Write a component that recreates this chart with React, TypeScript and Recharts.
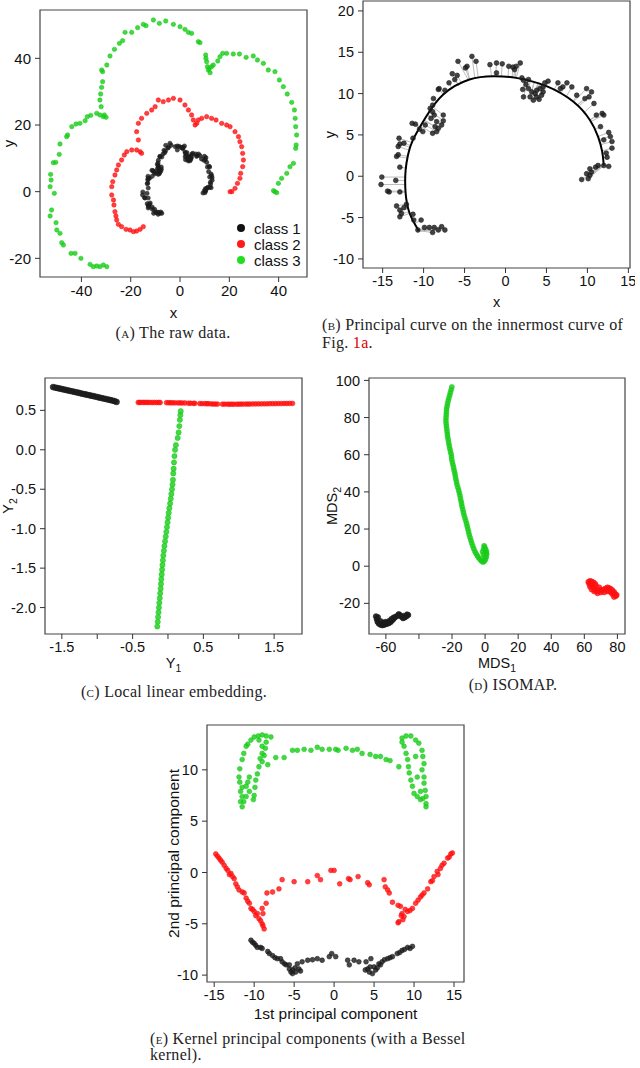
import React from 'react';
import { ScatterChart, ComposedChart, Scatter, Line, XAxis, YAxis, ReferenceArea, Legend, Label } from 'recharts';

type P = [number, number];

// ---------- (a) raw data & (b) innermost curve ----------
const CLASS1: P[] = [
  [-10.7, -6.5], [-10.3, -5.3], [-11.2, -5.3], [-11.3, -4.6], [-9.9, -6.2], [-9.3, -6.2], [-8.9, -6.8], [-8.2, -6.5],
  [-7.8, -6.1], [-7.4, -6.5], [-8.7, -6.2], [-12.7, -4.5], [-12.9, -4.1], [-12.4, -3.8], [-12.1, -3.4], [-13.3, -3.6],
  [-12.9, -4.9], [-12.9, -1.9], [-14.2, -1.9], [-14.4, -1.8], [-13.4, -0.5], [-15.1, -0.1], [-15.2, -1.0], [-12.9, 1.1],
  [-13.3, 2.4], [-13.1, 2.6], [-13.1, 3.6], [-12.9, 3.9], [-13.0, 4.6], [-12.4, 4.0], [-11.3, 4.6], [-11.0, 6.3],
  [-11.4, 6.4], [-10.5, 5.7], [-10.1, 5.4], [-9.8, 6.2], [-9.1, 7.0], [-8.7, 7.4], [-8.9, 7.8], [-9.2, 8.2],
  [-8.9, 8.6], [-8.8, 9.4], [-8.2, 10.5], [-8.1, 10.6], [-7.6, 7.4], [-8.4, 6.6], [-8.6, 6.0], [-8.2, 5.8],
  [-7.8, 6.2], [-8.9, 5.2], [-7.6, 6.7], [-8.4, 5.4], [-7.4, 10.4], [-6.9, 11.3], [-6.2, 11.7], [-5.9, 12.2],
  [-6.5, 12.4], [-5.8, 13.9], [-4.9, 13.1], [-4.7, 13.3], [-4.1, 14.5], [-3.6, 13.9], [-1.9, 13.5], [-1.1, 13.7],
  [-1.1, 12.5], [-0.4, 13.6], [0.4, 13.3], [0.9, 13.2], [1.3, 13.3], [1.8, 13.7], [1.1, 12.9], [2.0, 11.9],
  [2.2, 11.6], [2.8, 11.7], [2.5, 11.1], [2.8, 10.6], [2.1, 10.5], [2.2, 9.6], [3.0, 9.6], [3.2, 10.2],
  [3.6, 10.0], [3.8, 10.4], [4.2, 10.6], [4.4, 9.8], [4.1, 9.3], [3.4, 9.2], [4.6, 10.8], [4.8, 11.3],
  [5.2, 11.5], [4.6, 10.2], [3.8, 9.6], [6.4, 11.3], [7.0, 10.8], [7.5, 11.3], [8.1, 10.8], [6.7, 10.6],
  [8.7, 9.8], [9.9, 10.6], [10.5, 10.2], [9.7, 9.4], [10.2, 9.6], [10.8, 8.8], [11.1, 7.4], [11.8, 7.6],
  [12.0, 7.4], [11.6, 6.0], [12.6, 5.3], [12.8, 4.8], [13.0, 4.2], [12.0, 4.4], [13.0, 3.4], [12.3, 2.8],
  [12.4, 2.3], [12.6, 1.2], [12.0, 1.3], [11.3, 1.3], [11.0, 1.1], [10.3, 0.9], [10.5, 0.5], [9.9, 0.3],
  [10.3, 0.1], [10.1, -0.3], [9.3, -0.4],
];

const CLASS2: P[] = [
  [-14.9, -10.5], [-16.2, -11.3], [-17.6, -11.8], [-18.9, -12.0], [-20.3, -11.5], [-21.9, -11.3], [-23.7, -10.5],
  [-25.0, -9.8], [-25.7, -8.5], [-26.0, -7.3], [-26.4, -6.0], [-26.8, -4.0], [-27.0, -2.5], [-27.7, -1.0],
  [-27.7, 1.5], [-27.3, 3.0], [-26.4, 5.0], [-25.7, 6.5], [-25.0, 8.0], [-23.7, 9.5], [-22.6, 11.0], [-21.6, 12.0],
  [-19.6, 12.5], [-17.6, 12.5], [-16.2, 12.0], [-15.6, 11.5], [-16.9, 15.5], [-17.6, 18.0], [-16.9, 20.5],
  [-15.6, 22.0], [-13.5, 23.5], [-11.5, 24.5], [-10.1, 25.5], [-8.8, 27.5], [-6.8, 27.0], [-4.7, 27.5], [-2.7, 28.0],
  [0.0, 27.5], [2.0, 26.0], [3.4, 24.5], [4.7, 23.0], [5.4, 21.5], [6.1, 20.0], [6.8, 20.5], [7.4, 21.5], [8.8, 22.0],
  [10.8, 22.5], [12.8, 22.0], [14.6, 21.5], [16.9, 20.5], [18.9, 20.0], [20.3, 19.5], [22.3, 18.0], [23.7, 16.5],
  [24.3, 15.0], [25.0, 13.5], [25.4, 11.5], [25.7, 9.5], [25.4, 7.5], [24.6, 5.5], [24.3, 4.0], [23.3, 2.5],
  [22.3, 1.0], [21.0, 0.0], [20.3, 0.0],
];

const CLASS3: P[] = [
  [-29.7, -22.5], [-31.1, -22.0], [-32.5, -22.5], [-33.8, -22.3], [-35.2, -22.5], [-36.5, -21.8], [-40.2, -20.0],
  [-42.6, -18.5], [-44.2, -18.5], [-47.3, -16.0], [-48.0, -15.3], [-48.7, -12.5], [-50.0, -11.5], [-50.3, -9.3],
  [-52.7, -7.3], [-52.1, -5.5], [-51.0, -0.5], [-52.7, 1.5], [-52.3, 3.5], [-52.5, 5.2], [-51.4, 8.7], [-50.4, 8.8],
  [-49.0, 11.2], [-48.7, 14.3], [-46.0, 16.5], [-45.6, 17.0], [-43.9, 19.5], [-42.2, 20.3], [-40.6, 20.5],
  [-38.5, 21.3], [-37.6, 22.5], [-36.2, 22.9], [-33.8, 23.5], [-32.5, 23.0], [-31.1, 22.5], [-30.0, 22.3],
  [-30.7, 23.0], [-32.0, 25.5], [-32.5, 27.5], [-32.2, 29.3], [-31.8, 31.3], [-31.4, 33.0], [-31.4, 36.0],
  [-31.8, 36.5], [-29.7, 38.0], [-28.4, 40.7], [-26.6, 42.7], [-24.6, 44.5], [-23.3, 45.3], [-22.3, 47.8],
  [-19.6, 47.8], [-17.2, 49.2], [-14.9, 50.2], [-13.8, 49.8], [-10.8, 51.5], [-8.4, 50.5], [-5.8, 51.2],
  [-2.7, 50.2], [0.0, 49.5], [2.0, 48.7], [3.4, 47.8], [4.7, 47.5], [7.4, 45.0], [8.1, 44.7], [10.4, 41.0],
  [10.5, 40.0], [10.8, 39.0], [11.1, 37.5], [11.5, 36.5], [12.2, 35.7], [11.9, 37.0], [12.8, 37.5], [13.5, 38.0],
  [15.3, 39.2], [16.2, 40.5], [17.3, 41.5], [18.9, 41.5], [21.6, 41.3], [24.1, 41.3], [26.8, 40.3], [29.7, 40.7],
  [31.4, 39.5], [33.8, 38.5], [35.8, 36.5], [38.5, 36.0], [40.3, 33.5], [41.9, 31.5], [43.5, 29.3], [45.3, 26.8],
  [46.4, 24.5], [46.7, 22.0], [46.9, 19.5], [47.3, 17.0], [47.1, 14.0], [46.9, 13.0], [46.0, 8.5], [44.6, 7.5],
  [43.3, 5.5], [41.2, 4.0], [39.9, 2.5], [38.5, 0.0], [37.9, 0.3], [39.2, -0.3],
];

const PCURVE: P[] = [
  [-10.6, -6.6], [-11.7, -4.5], [-12.2, -2.0], [-12.2, 0.7], [-11.9, 2.6], [-11.3, 4.4], [-9.7, 7.2],
  [-7.6, 9.9], [-4.4, 11.7], [-1.5, 12.1], [1.3, 11.9], [5.0, 10.9], [8.3, 9.0], [10.3, 6.8], [11.3, 4.8],
  [11.8, 3.0], [12.0, 1.3],
];

// ---------- (c) LLE ----------
const LLE1: P[] = [
  [-1.624, 0.795], [-1.595, 0.789], [-1.565, 0.783], [-1.535, 0.777], [-1.505, 0.771], [-1.475, 0.765], [-1.445, 0.759],
  [-1.415, 0.753], [-1.385, 0.747], [-1.355, 0.741], [-1.325, 0.735], [-1.295, 0.729], [-1.265, 0.723], [-1.235, 0.716],
  [-1.205, 0.71], [-1.175, 0.704], [-1.145, 0.698], [-1.115, 0.692], [-1.085, 0.686], [-1.055, 0.68], [-1.025, 0.674],
  [-0.995, 0.668], [-0.965, 0.661], [-0.935, 0.655], [-0.905, 0.649], [-0.875, 0.643], [-0.845, 0.637], [-0.815, 0.631],
  [-0.785, 0.624], [-0.755, 0.617], [-0.727, 0.607],
];
const LLE2: P[] = [
  [-0.42, 0.6], [-0.4, 0.6], [-0.38, 0.601], [-0.35, 0.6], [-0.33, 0.601], [-0.3, 0.6], [-0.28, 0.6], [-0.25, 0.6],
  [-0.22, 0.599], [-0.19, 0.6], [-0.16, 0.599], [-0.13, 0.6], [-0.11, 0.599], [-0.02, 0.597], [0.01, 0.596],
  [0.04, 0.596], [0.07, 0.595], [0.1, 0.595], [0.14, 0.594], [0.17, 0.594], [0.2, 0.593], [0.24, 0.593],
  [0.29, 0.59], [0.32, 0.59], [0.36, 0.589], [0.38, 0.589], [0.45, 0.586], [0.48, 0.585], [0.52, 0.585],
  [0.55, 0.584], [0.57, 0.584], [0.61, 0.581], [0.64, 0.58], [0.67, 0.58], [0.7, 0.579], [0.77, 0.578],
  [0.8, 0.578], [0.84, 0.578], [0.87, 0.577], [0.9, 0.578], [0.93, 0.577], [0.97, 0.578], [1.0, 0.578],
  [1.03, 0.579], [1.06, 0.579], [1.1, 0.58], [1.13, 0.58], [1.16, 0.58], [1.2, 0.581], [1.24, 0.581],
  [1.28, 0.582], [1.32, 0.582], [1.36, 0.583], [1.4, 0.583], [1.44, 0.584], [1.48, 0.585], [1.52, 0.585],
  [1.56, 0.586], [1.6, 0.586], [1.64, 0.587], [1.68, 0.587], [1.72, 0.588], [1.76, 0.588],
];
const LLE3: P[] = [
  [-0.151, -2.24], [-0.145, -2.18], [-0.14, -2.12], [-0.134, -2.06], [-0.128, -2.0], [-0.122, -1.94], [-0.116, -1.88],
  [-0.11, -1.82], [-0.104, -1.76], [-0.099, -1.7], [-0.094, -1.64], [-0.089, -1.58], [-0.083, -1.52], [-0.078, -1.46],
  [-0.072, -1.4], [-0.066, -1.34], [-0.058, -1.28], [-0.05, -1.22], [-0.041, -1.16], [-0.032, -1.1], [-0.023, -1.04],
  [-0.014, -0.98], [-0.006, -0.92], [0.002, -0.86], [0.01, -0.8], [0.02, -0.74], [0.03, -0.68], [0.039, -0.62],
  [0.048, -0.56], [0.057, -0.5], [0.064, -0.44], [0.07, -0.38], [0.075, -0.3], [0.08, -0.24], [0.085, -0.16],
  [0.092, -0.08], [0.1, 0.0], [0.112, 0.06], [0.137, 0.15], [0.15, 0.22], [0.16, 0.3], [0.168, 0.38],
  [0.175, 0.44], [0.18, 0.49],
];

// ---------- (d) ISOMAP ----------
const ISO1: P[] = [
  [-66.0, -27.0], [-65.5, -28.5], [-65.0, -30.0], [-64.2, -31.0], [-63.2, -31.5], [-62.2, -31.8], [-61.3, -31.6],
  [-60.3, -31.3], [-59.3, -31.0], [-58.3, -30.7], [-57.3, -30.2], [-56.4, -29.4], [-55.5, -28.5], [-54.6, -27.6],
  [-53.6, -27.0], [-52.6, -26.5], [-51.6, -26.3], [-50.6, -27.2], [-49.6, -28.0], [-48.6, -27.6], [-47.6, -27.0],
  [-46.5, -26.3], [-64.8, -27.5], [-63.2, -29.6], [-61.2, -30.3], [-58.0, -29.5], [-55.2, -27.6], [-52.2, -25.8],
  [-49.2, -26.8], [-47.2, -26.0], [-60.0, -30.0], [-56.6, -28.4],
];
const ISO2: P[] = [
  [62.5, -8.5], [63.5, -8.0], [64.5, -8.3], [65.5, -8.8], [66.5, -9.5], [64.0, -10.0], [63.0, -9.5], [65.0, -11.0],
  [66.0, -12.0], [67.0, -13.0], [68.0, -13.5], [69.0, -13.0], [70.0, -12.8], [71.0, -13.0], [72.0, -12.5],
  [73.0, -12.0], [74.0, -11.5], [75.0, -11.8], [76.0, -12.3], [77.0, -13.0], [78.0, -14.0], [78.5, -15.0],
  [79.0, -16.0], [78.0, -16.5], [77.0, -15.0], [76.0, -14.0], [74.0, -13.5], [72.0, -14.0], [70.0, -14.0],
  [68.0, -14.5], [66.0, -13.5], [64.5, -12.5], [63.5, -11.0], [67.0, -10.5], [69.0, -11.5], [75.0, -13.2],
  [79.5, -15.5],
];
const ISO3: P[] = [
  [-20.1, 96.5], [-20.5, 95.0], [-21.0, 93.5], [-21.4, 92.0], [-21.9, 90.5], [-22.3, 89.0], [-22.7, 87.5],
  [-23.0, 86.0], [-23.3, 84.5], [-23.4, 83.0], [-23.5, 81.5], [-23.6, 80.0], [-23.7, 78.5], [-23.6, 77.0],
  [-23.4, 75.5], [-23.2, 74.0], [-23.0, 72.5], [-22.8, 71.0], [-22.6, 69.5], [-22.3, 68.0], [-22.0, 66.5],
  [-21.7, 65.0], [-21.4, 63.5], [-21.0, 62.0], [-20.6, 60.5], [-20.3, 59.0], [-20.2, 57.5], [-19.8, 56.0],
  [-19.4, 54.5], [-19.0, 53.0], [-18.7, 51.5], [-18.3, 50.0], [-18.0, 48.5], [-17.7, 47.0], [-17.3, 45.5],
  [-17.0, 44.0], [-16.5, 42.5], [-16.0, 41.0], [-15.6, 39.5], [-15.2, 38.0], [-14.9, 36.5], [-14.5, 35.0],
  [-14.2, 33.5], [-13.9, 32.0], [-13.5, 30.5], [-13.1, 29.0], [-12.7, 27.5], [-12.2, 26.0], [-11.7, 24.5],
  [-11.2, 23.0], [-10.8, 21.5], [-10.4, 20.0], [-10.0, 18.5], [-9.6, 17.0], [-9.1, 15.5], [-8.6, 14.0],
  [-8.1, 12.5], [-7.5, 11.0], [-6.9, 9.5], [-6.2, 8.0], [-5.5, 6.8], [-4.7, 5.6], [-3.9, 4.6], [-3.0, 3.6],
  [-2.2, 2.8], [-1.3, 2.2], [-0.5, 2.6], [0.2, 3.6], [0.7, 5.0], [1.0, 6.5], [0.8, 8.0], [0.3, 9.2],
  [-0.3, 10.3], [-0.9, 9.2], [-1.5, 7.8], [-1.0, 6.2], [-0.2, 4.8], [0.4, 7.2], [-0.6, 11.0],
];

// ---------- (e) kernel PCA ----------
const KPC1: P[] = [
  [-10.4, -6.6], [-10.0, -6.9], [-9.6, -7.3], [-9.0, -7.4], [-8.3, -7.7], [-7.7, -8.1], [-7.1, -8.4], [-6.5, -8.7],
  [-6.0, -9.0], [-5.6, -9.4], [-5.2, -9.5], [-4.8, -9.7], [-4.4, -9.4], [-4.6, -8.9], [-4.0, -8.7], [-3.3, -8.55],
  [-2.7, -8.5], [-2.1, -8.4], [-1.5, -8.55], [-0.6, -8.2], [-0.3, -7.9], [0.2, -8.2], [1.7, -8.55], [1.9, -9.0],
  [2.5, -8.55], [3.1, -8.7], [4.0, -8.7], [4.2, -9.4], [4.4, -9.7], [4.6, -8.4], [5.0, -9.2], [5.6, -8.9],
  [6.0, -8.7], [6.7, -8.4], [7.3, -8.2], [7.9, -7.9], [8.5, -7.6], [9.2, -7.3], [9.8, -7.2], [5.2, -9.5],
  [4.8, -9.85], [-5.2, -9.85], [-5.6, -9.0], [-6.7, -8.4], [-8.1, -7.9], [-9.2, -7.3], [-9.8, -7.1], [-10.2, -6.8],
  [-4.9, -9.3], [-5.4, -9.7], [4.5, -9.2], [5.4, -9.3], [6.3, -8.5], [8.2, -7.8], [9.5, -7.4],
  [-7.4, -8.3], [-6.2, -8.9], [-4.2, -9.6], [3.9, -9.5], [5.8, -9.0], [7.0, -8.3], [8.8, -7.5],
];
const KPC2: P[] = [
  [-14.8, 1.8], [-14.4, 1.4], [-14.0, 1.0], [-13.75, 0.7], [-13.3, 0.2], [-12.9, -0.1], [-12.5, -0.6], [-12.3, -1.1],
  [-12.1, -1.4], [-11.25, -2.0], [-11.0, -2.5], [-10.6, -3.0], [-10.4, -3.5], [-10.0, -3.8], [-9.6, -4.0],
  [-9.4, -4.5], [-9.0, -5.0], [-8.75, -5.5], [-9.0, -3.5], [-8.5, -3.0], [-8.4, -2.0], [-7.7, -1.9], [-6.9, -1.6],
  [-6.5, -0.7], [-5.0, -0.9], [-3.3, -0.9], [-2.1, -0.3], [-1.7, -0.7], [-0.4, 0.2], [0.0, 0.2], [0.7, -1.1],
  [1.8, -0.6], [2.0, -0.7], [3.0, -0.4], [4.2, -1.0], [4.4, -1.2], [6.25, -0.7], [6.4, -1.4], [6.7, -1.7],
  [6.9, -2.0], [7.3, -2.9], [8.0, -3.2], [8.3, -3.3], [8.5, -4.0], [8.75, -4.3], [8.1, -4.8], [9.2, -3.8],
  [9.8, -3.5], [10.2, -3.0], [10.8, -2.4], [11.25, -2.0], [11.7, -1.6], [12.1, -0.9], [12.5, -0.4], [12.9, 0.1],
  [13.3, 0.4], [13.75, 0.9], [14.2, 1.4], [14.6, 1.8], [14.8, 1.9], [-14.6, 1.6], [-14.2, 1.2], [-13.5, 0.4],
  [-13.1, -0.2], [-12.7, -0.4], [-11.9, -1.7], [-11.5, -1.9], [-10.8, -2.8], [-10.2, -3.6], [-9.8, -4.2],
  [-9.2, -4.7], [-8.9, -5.2], [-8.9, -4.0], [8.6, -4.6], [8.4, -4.2], [8.9, -3.6], [9.5, -3.7], [10.5, -2.7],
  [11.0, -2.2], [12.3, -0.8], [13.0, -0.2], [13.5, 0.7], [14.4, 1.5], [8.0, -4.9],
];
const KPC3: P[] = [
  [-11.5, 6.4], [-11.7, 6.9], [-11.5, 7.4], [-11.7, 7.9], [-11.5, 8.3], [-11.8, 8.8], [-11.9, 9.3], [-11.8, 10.1],
  [-11.5, 11.0], [-11.3, 11.6], [-11.0, 12.3], [-10.8, 12.5], [-10.4, 12.9], [-10.0, 13.2], [-9.5, 13.3],
  [-9.0, 13.4], [-8.5, 13.3], [-7.9, 13.2], [-8.5, 12.7], [-8.6, 12.1], [-8.75, 11.4], [-9.0, 10.8], [-9.4, 10.3],
  [-9.6, 9.6], [-9.8, 9.0], [-9.9, 8.3], [-10.0, 7.5], [-10.1, 7.1], [-10.6, 9.3], [-10.8, 8.8], [-11.0, 8.4],
  [-10.6, 7.9], [-11.0, 7.4], [-11.3, 6.9], [-9.4, 12.9], [-9.0, 12.3], [-9.0, 11.6], [-9.25, 11.1], [-8.3, 10.5],
  [-7.3, 11.2], [-6.25, 11.2], [-5.2, 11.9], [-4.6, 11.9], [-3.75, 12.0], [-2.9, 11.9], [-2.1, 12.2], [-1.5, 12.0],
  [-0.6, 12.0], [0.2, 12.0], [0.5, 11.9], [1.5, 12.1], [2.3, 11.9], [2.9, 12.0], [3.5, 11.6], [4.5, 11.5],
  [5.2, 11.3], [5.8, 11.3], [6.5, 11.0], [7.0, 10.9], [8.1, 10.3],
  [8.5, 13.1], [9.0, 13.3], [9.6, 13.3], [10.2, 12.9], [10.6, 12.6], [11.0, 11.9], [11.1, 11.3], [11.25, 10.6],
  [11.0, 10.0], [11.25, 9.3], [11.25, 8.7], [11.4, 8.0], [11.5, 7.4], [11.5, 6.7], [11.5, 6.4], [10.8, 7.1],
  [10.4, 7.4], [10.0, 7.7], [9.8, 8.4], [9.6, 9.0], [9.4, 9.7], [9.3, 10.3], [9.2, 11.0], [9.0, 11.6],
  [8.75, 12.3], [8.5, 12.7], [10.2, 11.3], [10.4, 9.3], [10.8, 7.9], [11.1, 7.2],
];

// ---------- ticks & labels ----------
const A_XTICKS = [-40, -20, 0, 20, 40];
const A_YTICKS = [-20, 0, 20, 40];
const B_XTICKS = [-15, -10, -5, 0, 5, 10, 15];
const B_YTICKS = [-10, -5, 0, 5, 10, 15, 20];
const C_XTICKS = [-1.5, -1, -0.5, 0, 0.5, 1, 1.5];
const C_XLABELED = [-1.5, -0.5, 0.5, 1.5];
const C_YTICKS = [-2, -1.5, -1, -0.5, 0, 0.5];
const D_XTICKS = [-60, -40, -20, 0, 20, 40, 60, 80];
const D_XUNLABELED = [-40];
const D_YTICKS = [-20, 0, 20, 40, 60, 80, 100];
const E_XTICKS = [-15, -10, -5, 0, 5, 10, 15];
const E_YTICKS = [-10, -5, 0, 5, 10];
const LEGEND_LABELS = ['class 1', 'class 2', 'class 3'];

// ---------- styles ----------
const SANS = '"Liberation Sans", Arial, Helvetica, sans-serif';
const SERIF = '"Liberation Serif", "Times New Roman", serif';
const BLACK = '#1c1c1c';
const RED = '#ff1010';
const GREEN = '#19cc19';
const LEGEND_COLORS = ['#111111', '#ff1a1a', '#22dd22'];
const PAD = 5;

const toPts = (a: P[]) => a.map(([x, y]) => ({ x, y }));

function project(p: P, curve: P[]): P {
  let best: P = curve[0];
  let bd = Infinity;
  for (let i = 0; i < curve.length - 1; i++) {
    const a = curve[i], b = curve[i + 1];
    const dx = b[0] - a[0], dy = b[1] - a[1];
    let t = ((p[0] - a[0]) * dx + (p[1] - a[1]) * dy) / (dx * dx + dy * dy);
    t = Math.max(0, Math.min(1, t));
    const q: P = [a[0] + t * dx, a[1] + t * dy];
    const d = (q[0] - p[0]) ** 2 + (q[1] - p[1]) ** 2;
    if (d < bd) { bd = d; best = q; }
  }
  return best;
}

const SEGMENTS = CLASS1.flatMap((p) => {
  const q = project(p, PCURVE);
  return [{ x: p[0], y: p[1] as number | null }, { x: q[0], y: q[1] as number | null }, { x: q[0], y: null }];
});

const dot = (color: string, r = 2.3, op = 0.8) => (p: any) => (
  <circle cx={p.cx} cy={p.cy} r={r} fill={color} fillOpacity={op} stroke={color} strokeOpacity={op} strokeWidth={0.7} />
);

type Box = { l: number; r: number; t: number; b: number };

function frame(box: Box, divLeft: number, xh: number) {
  const yw = box.l - divLeft;
  return {
    style: { position: 'absolute' as const, left: divLeft, top: box.t - PAD },
    width: yw + (box.r - box.l) + PAD,
    height: PAD + (box.b - box.t) + xh,
    yw,
  };
}

const xAxisProps = (domain: number[], ticks: number[], h: number, fs: number, fmt?: (v: number) => string) => ({
  type: 'number' as const,
  dataKey: 'x',
  domain,
  ticks,
  allowDataOverflow: true,
  interval: 0 as const,
  height: h,
  tick: { fontSize: fs, fill: '#111', fontFamily: SANS },
  tickSize: 5,
  tickMargin: 3,
  axisLine: false,
  tickLine: { stroke: '#333' },
  tickFormatter: fmt,
});

const yAxisProps = (domain: number[], ticks: number[], w: number, fs: number, fmt?: (v: number) => string) => ({
  type: 'number' as const,
  dataKey: 'y',
  domain,
  ticks,
  allowDataOverflow: true,
  interval: 0 as const,
  width: w,
  tick: { fontSize: fs, fill: '#111', fontFamily: SANS },
  tickSize: 5,
  tickMargin: 4,
  axisLine: false,
  tickLine: { stroke: '#333' },
  tickFormatter: fmt,
});

const xTitle = (main: string, sub: string | null, off: number, fs: number) => (props: any) => {
  const vb = props.viewBox || {};
  const cx = vb.x + vb.width / 2;
  const cy = vb.y + off;
  return (
    <text x={cx} y={cy} textAnchor="middle" dominantBaseline="central" fontFamily={SANS} fontSize={fs} fill="#111">
      <tspan>{main}</tspan>
      {sub ? <tspan dy={5} fontSize={fs * 0.72}>{sub}</tspan> : null}
    </text>
  );
};

const yTitle = (main: string, sub: string | null, off: number, fs: number) => (props: any) => {
  const vb = props.viewBox || {};
  const cx = vb.x + off;
  const cy = vb.y + vb.height / 2;
  return (
    <text x={cx} y={cy} transform={`rotate(-90 ${cx} ${cy})`} textAnchor="middle" dominantBaseline="central"
      fontFamily={SANS} fontSize={fs} fill="#111">
      <tspan>{main}</tspan>
      {sub ? <tspan dy={5} fontSize={fs * 0.72}>{sub}</tspan> : null}
    </text>
  );
};

const boxArea = (xd: number[], yd: number[]) => (
  <ReferenceArea x1={xd[0]} x2={xd[1]} y1={yd[0]} y2={yd[1]} fill="none" fillOpacity={0} stroke="#444" strokeWidth={1.2} ifOverflow="visible" />
);

const legendContent = () => (
  <div style={{ fontFamily: SANS, fontSize: 15, color: '#111' }}>
    {LEGEND_LABELS.map((l, i) => (
      <div key={l} style={{ display: 'flex', alignItems: 'center', height: 16, whiteSpace: 'nowrap' }}>
        <span style={{ display: 'inline-block', width: 8, height: 8, borderRadius: 4, background: LEGEND_COLORS[i], marginRight: 9 }} />
        {l}
      </div>
    ))}
  </div>
);

const A_BOX: Box = { l: 40, r: 307, t: 10, b: 277 };
const B_BOX: Box = { l: 363, r: 630, t: 1, b: 268 };
const C_BOX: Box = { l: 45, r: 302, t: 378, b: 634 };
const D_BOX: Box = { l: 369, r: 625, t: 378, b: 634 };
const E_BOX: Box = { l: 207, r: 464, t: 725, b: 982 };

const A_XD = [-56.8, 51.5], A_YD = [-25.6, 54.5];
const B_XD = [-17.4, 15.2], B_YD = [-11.1, 21.2];
const C_XD = [-1.738, 1.894], C_YD = [-2.335, 0.91];
const D_XD = [-70.2, 84.6], D_YD = [-36.5, 101.3];
const E_XD = [-15.9, 16.25], E_YD = [-10.67, 14.37];

const captionStyle: React.CSSProperties = {
  position: 'absolute', fontFamily: SERIF, fontSize: 16, letterSpacing: 0.3, color: '#222', whiteSpace: 'nowrap', lineHeight: '18px',
};
const SC = ({ c }: { c: string }) => <span style={{ fontVariant: 'small-caps' }}>{c}</span>;

export default function App() {
  const fa = frame(A_BOX, 0, 45);
  const fb = frame(B_BOX, 320, 45);
  const fc = frame(C_BOX, 0, 40);
  const fd = frame(D_BOX, 322, 40);
  const fe = frame(E_BOX, 160, 42);
  const m = { top: PAD, right: PAD, bottom: 0, left: 0 };

  return (
    <div style={{ position: 'absolute', left: 0, top: 0, width: 640, height: 1068, background: '#fff', overflow: 'hidden' }}>
      {/* (a) */}
      <div style={fa.style}>
        <ScatterChart width={fa.width} height={fa.height} margin={m}>
          <XAxis {...xAxisProps(A_XD, A_XTICKS, 45, 15)}>
            <Label content={xTitle('x', null, 35, 15)} />
          </XAxis>
          <YAxis {...yAxisProps(A_YD, A_YTICKS, fa.yw, 15)}>
            <Label content={yTitle('y', null, 8, 15)} />
          </YAxis>
          {boxArea(A_XD, A_YD)}
          <Scatter name="class 3" data={toPts(CLASS3)} shape={dot(GREEN, 2.2)} isAnimationActive={false} />
          <Scatter name="class 2" data={toPts(CLASS2)} shape={dot(RED, 2.2)} isAnimationActive={false} />
          <Scatter name="class 1" data={toPts(CLASS1)} shape={dot(BLACK, 2.1)} isAnimationActive={false} />
          <Legend layout="vertical" align="center" verticalAlign="middle" content={legendContent}
            wrapperStyle={{ left: 237, top: 215, width: 'auto', height: 'auto' }} />
        </ScatterChart>
      </div>

      {/* (b) */}
      <div style={fb.style}>
        <ComposedChart width={fb.width} height={fb.height} margin={m}>
          <XAxis {...xAxisProps(B_XD, B_XTICKS, 45, 14.5)}>
            <Label content={xTitle('x', null, 34, 14.5)} />
          </XAxis>
          <YAxis {...yAxisProps(B_YD, B_YTICKS, fb.yw, 14.5)}>
            <Label content={yTitle('y', null, 10, 14.5)} />
          </YAxis>
          {boxArea(B_XD, B_YD)}
          <Line data={SEGMENTS} dataKey="y" stroke="#bdbdbd" strokeWidth={1} dot={false} connectNulls={false}
            isAnimationActive={false} type="linear" />
          <Line data={toPts(PCURVE)} dataKey="y" stroke="#000" strokeWidth={2} dot={false} isAnimationActive={false} type="natural" />
          <Scatter data={toPts(CLASS1)} shape={dot(BLACK, 2.4, 0.82)} isAnimationActive={false} />
        </ComposedChart>
      </div>

      {/* (c) */}
      <div style={fc.style}>
        <ScatterChart width={fc.width} height={fc.height} margin={m}>
          <XAxis {...xAxisProps(C_XD, C_XTICKS, 40, 14.5, (v) => (C_XLABELED.includes(v) ? v.toFixed(1) : ''))}>
            <Label content={xTitle('Y', '1', 29, 14.5)} />
          </XAxis>
          <YAxis {...yAxisProps(C_YD, C_YTICKS, fc.yw, 14.5, (v) => v.toFixed(1))}>
            <Label content={yTitle('Y', '2', 8, 14.5)} />
          </YAxis>
          {boxArea(C_XD, C_YD)}
          <Scatter data={toPts(LLE1)} shape={dot(BLACK, 2.9, 0.9)} isAnimationActive={false} />
          <Scatter data={toPts(LLE2)} shape={dot(RED, 2.4)} isAnimationActive={false} />
          <Scatter data={toPts(LLE3)} shape={dot(GREEN, 2.6)} isAnimationActive={false} />
        </ScatterChart>
      </div>

      {/* (d) */}
      <div style={fd.style}>
        <ScatterChart width={fd.width} height={fd.height} margin={m}>
          <XAxis {...xAxisProps(D_XD, D_XTICKS, 40, 14.5, (v) => (D_XUNLABELED.includes(v) ? '' : String(v)))}>
            <Label content={xTitle('MDS', '1', 29, 14.5)} />
          </XAxis>
          <YAxis {...yAxisProps(D_YD, D_YTICKS, fd.yw, 14.5)}>
            <Label content={yTitle('MDS', '2', 10, 14.5)} />
          </YAxis>
          {boxArea(D_XD, D_YD)}
          <Scatter data={toPts(ISO1)} shape={dot(BLACK, 2.7, 0.9)} isAnimationActive={false} />
          <Scatter data={toPts(ISO2)} shape={dot(RED, 2.7)} isAnimationActive={false} />
          <Scatter data={toPts(ISO3)} shape={dot(GREEN, 2.5)} isAnimationActive={false} />
        </ScatterChart>
      </div>

      {/* (e) */}
      <div style={fe.style}>
        <ScatterChart width={fe.width} height={fe.height} margin={m}>
          <XAxis {...xAxisProps(E_XD, E_XTICKS, 42, 14.5)}>
            <Label content={xTitle('1st principal component', null, 31, 15.5)} />
          </XAxis>
          <YAxis {...yAxisProps(E_YD, E_YTICKS, fe.yw, 14.5)}>
            <Label content={yTitle('2nd principal component', null, 13, 15.5)} />
          </YAxis>
          {boxArea(E_XD, E_YD)}
          <Scatter data={toPts(KPC3)} shape={dot(GREEN, 2.4)} isAnimationActive={false} />
          <Scatter data={toPts(KPC2)} shape={dot(RED, 2.4)} isAnimationActive={false} />
          <Scatter data={toPts(KPC1)} shape={dot(BLACK, 2.4)} isAnimationActive={false} />
        </ScatterChart>
      </div>

      {/* captions */}
      <div style={{ ...captionStyle, left: 173, top: 324, transform: 'translateX(-50%)' }}>
        (<SC c="a" />) The raw data.
      </div>
      <div style={{ ...captionStyle, left: 322, top: 316 }}>
        (<SC c="b" />) Principal curve on the innermost curve of
      </div>
      <div style={{ ...captionStyle, left: 322, top: 334 }}>
        Fig. <span style={{ color: '#e00000' }}>1a</span>.
      </div>
      <div style={{ ...captionStyle, left: 174, top: 683, transform: 'translateX(-50%)' }}>
        (<SC c="c" />) Local linear embedding.
      </div>
      <div style={{ ...captionStyle, left: 513, top: 676, transform: 'translateX(-50%)' }}>
        (<SC c="d" />) ISOMAP.
      </div>
      <div style={{ ...captionStyle, left: 150, top: 1030 }}>
        (<SC c="e" />) Kernel principal components (with a Bessel
      </div>
      <div style={{ ...captionStyle, left: 150, top: 1046 }}>
        kernel).
      </div>
    </div>
  );
}
